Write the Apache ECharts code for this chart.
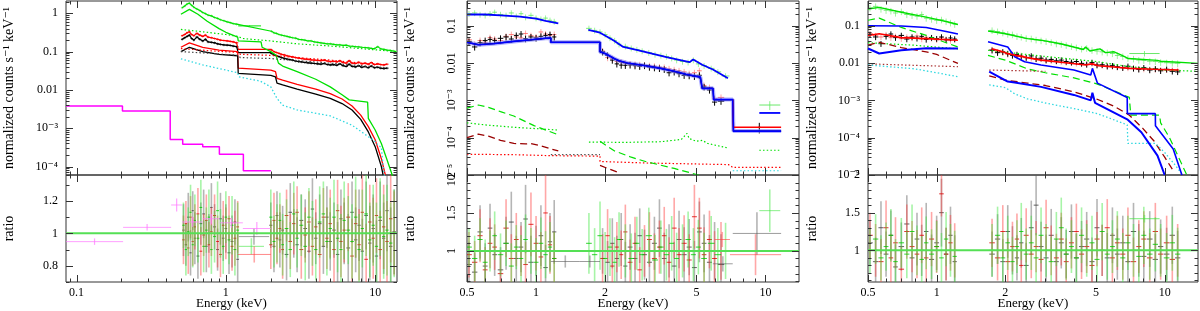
<!DOCTYPE html>
<html><head><meta charset="utf-8">
<script src="https://cdn.jsdelivr.net/npm/echarts@6/dist/echarts.min.js"></script>
<style>html,body{margin:0;padding:0;background:#fff}#c{width:1200px;height:311px}</style>
</head><body><div id="c"></div>
<script>
// ================= DATA =================
// axis ticks / labels
const P1_XTICKS = [0.1, 1, 10];
const P1_XLABELS = ['0.1', '1', '10'];
const P1_XMINOR = [0.09,0.2,0.3,0.4,0.5,0.6,0.7,0.8,0.9,2,3,4,5,6,7,8,9];
const P23_XTICKS = [0.5, 1, 2, 5, 10];
const P23_XLABELS = ['0.5', '1', '2', '5', '10'];
const P23_XMINOR = [0.6,0.7,0.8,0.9,3,4,6,7,8,9];
const P1_YTICKS = [1e-4, 1e-3, 0.01, 0.1, 1];
const P1_YLABELS = ['10⁻⁴', '10⁻³', '0.01', '0.1', '1'];
const P23_YTICKS = [1e-5, 1e-4, 1e-3, 0.01, 0.1];
const P23_YLABELS = ['10⁻⁵', '10⁻⁴', '10⁻³', '0.01', '0.1'];
const P1_RTICKS = [0.8, 1, 1.2];
const P1_RLABELS = ['0.8', '1', '1.2'];
const P1_RMINOR = [0.7, 0.9, 1.1, 1.3];
const P23_RTICKS = [1, 1.5, 2];
const P23_RLABELS = ['1', '1.5', '2'];
const P23_RMINOR = [0.6,0.7,0.8,0.9,1.1,1.2,1.3,1.4,1.6,1.7,1.8,1.9];

// ---------- Panel 1 (top) ----------
const P1_E = [0.51,0.53,0.55,0.57,0.59,0.61,0.64,0.67,0.7,0.73,0.76,0.8,0.84,0.88,0.92,0.97,1.02,1.07,1.12,1.18,
  2.02,2.1,2.18,2.27,2.36,2.46,2.57,2.68,2.8,2.93,3.07,3.22,3.38,3.55,3.73,3.92,4.12,4.33,4.55,4.78,
  5.02,5.27,5.53,5.8,6.09,6.39,6.7,7.03,7.38,7.75,8.14,8.55,8.98,9.43,9.9,10.4,10.9,11.45,12.0,12.6,13.2,13.8];
const P1_GREEN = [1.4,1.55,1.75,1.85,1.62,1.45,1.3,1.18,1.05,0.98,0.9,0.86,0.78,0.74,0.68,0.64,0.6,0.57,0.54,0.52,
  0.34,0.31,0.3,0.28,0.27,0.26,0.25,0.24,0.23,0.225,0.21,0.205,0.2,0.19,0.19,0.18,0.175,0.17,0.165,0.16,
  0.16,0.155,0.15,0.15,0.145,0.148,0.14,0.138,0.135,0.133,0.13,0.128,0.125,0.122,0.12,0.135,0.118,0.115,0.11,0.108,0.104,0.1];
const P1_RED = [0.26,0.28,0.31,0.33,0.28,0.26,0.3,0.27,0.25,0.27,0.24,0.23,0.22,0.21,0.2,0.195,0.19,0.185,0.18,0.17,
  0.11,0.1,0.095,0.09,0.085,0.082,0.078,0.075,0.073,0.07,0.068,0.066,0.064,0.063,0.061,0.06,0.059,0.058,0.06,0.057,
  0.055,0.056,0.054,0.058,0.052,0.05,0.058,0.05,0.049,0.053,0.048,0.05,0.047,0.052,0.046,0.048,0.046,0.045,0.047,null,null,null];
const P1_BLACK = [0.21,0.23,0.25,0.27,0.22,0.2,0.24,0.21,0.19,0.21,0.18,0.175,0.17,0.16,0.155,0.15,0.148,0.145,0.14,0.135,
  0.09,0.082,0.078,0.074,0.07,0.067,0.064,0.062,0.06,0.057,0.055,0.054,0.052,0.051,0.05,0.049,0.048,0.047,0.049,0.046,
  0.045,0.046,0.044,0.048,0.043,0.041,0.047,0.041,0.04,0.043,0.039,0.041,0.038,0.042,0.038,0.039,0.037,0.036,0.037,null,null,null];
// wide bins [elo, ehi, value]
const P1_WIDE_GREEN = [1.21, 1.72, 0.47];
const P1_WIDE_RED = [1.21, 2.0, 0.115];
const P1_WIDE_BLACK = [1.21, 2.0, 0.094];
const P1_GREEN_COMP = [[0.5,0.95],[0.57,1.27],[0.65,0.95],[0.75,0.62],[0.9,0.4],[1.0,0.32],[1.2,0.24],[1.21,0.19],[1.72,0.18],[1.75,0.13],[2.0,0.1],[2.17,0.08],[2.25,0.05],[2.4,0.042],[3,0.03],[4,0.019],[5,0.012],[6,0.0075],[6.7,0.0055],[6.75,0.005],[8.9,0.0048],[9.0,0.0018],[10,0.0009],[11,0.0004],[12,0.00015],[13,0.00006],[13.5,0.00004]];
const P1_RED_COMP = [[0.5,0.13],[0.57,0.17],[0.7,0.13],[0.9,0.11],[1.2,0.1],[1.21,0.037],[2.0,0.033],[2.15,0.03],[2.2,0.02],[2.4,0.018],[3,0.014],[4,0.0105],[5,0.008],[6,0.0058],[7,0.0038],[8,0.0022],[9,0.0011],[10,0.0005],[11,0.00016],[11.7,0.00006]];
const P1_BLACK_COMP = [[0.5,0.1],[0.57,0.13],[0.7,0.1],[0.9,0.085],[1.2,0.078],[1.21,0.027],[2.0,0.024],[2.15,0.022],[2.2,0.015],[2.4,0.0135],[3,0.0105],[4,0.0078],[5,0.006],[6,0.0044],[7,0.003],[8,0.0017],[9,0.0008],[10,0.00033],[11,0.0001],[11.3,0.00006]];
const P1_GREEN_DOT = [[0.5,0.38],[0.7,0.33],[1.0,0.28],[1.2,0.25],[1.3,0.22],[2,0.19],[3,0.16],[5,0.14],[8,0.12],[14,0.1]];
const P1_RED_DOT = [[0.5,0.12],[0.8,0.105],[1.2,0.095],[1.25,0.085],[2,0.08],[3,0.07],[5,0.06],[8,0.05],[12,0.045]];
const P1_BLACK_DOT = [[0.5,0.1],[0.8,0.09],[1.2,0.08],[1.25,0.07],[2,0.066],[3,0.058],[5,0.05],[8,0.043],[12,0.038]];
const P1_CYAN_DOT = [[0.5,0.065],[0.7,0.045],[1,0.033],[1.2,0.028],[1.22,0.022],[1.7,0.017],[2.0,0.012],[2.2,0.006],[2.4,0.004],[3,0.003],[5,0.0021],[7,0.0012],[9,0.0006],[10,0.00045],[10.5,0.00035],[11,0.00032],[11.3,0.0001],[11.6,0.00005]];
const P1_MAG_EDGES = [0.085, 0.203, 0.424, 0.514, 0.70, 0.905, 1.31, 2.0];
const P1_MAG_VALS = [0.0038, 0.0028, 5.1e-4, 3.8e-4, 3.3e-4, 2.1e-4, 7.7e-5];

// ---------- Panel 1 (ratio) ----------
const P1R_E = [0.52,0.54,0.56,0.58,0.6,0.62,0.65,0.68,0.71,0.74,0.77,0.8,0.84,0.88,0.92,0.96,1.0,1.05,1.1,1.15,1.2,
  2.0,2.1,2.2,2.3,2.4,2.55,2.7,2.85,3.0,3.2,3.4,3.6,3.8,4.0,4.25,4.5,4.75,5.0,5.3,5.6,5.9,6.2,6.6,7.0,7.4,7.8,8.2,8.7,9.2,9.7,10.2,10.8,11.4,12.0,12.7,13.4];
const P1R_BLACK = [1.02,0.93,1.1,0.88,1.14,0.97,0.86,1.06,1.12,0.92,1.0,1.16,1.04,0.9,1.09,0.97,1.03,0.88,0.95,1.07,0.84,
  1.05,0.92,1.11,0.96,1.02,0.87,1.13,1.0,0.93,1.08,1.03,0.89,1.15,0.97,1.06,0.92,1.1,0.95,1.02,0.87,1.09,1.0,0.91,1.13,0.96,1.05,0.89,1.11,0.94,1.03,0.86,1.08,0.97,1.14,0.92,1.01];
const P1R_BLACK_ERR = [0.16,0.13,0.15,0.14,0.12,0.16,0.14,0.13,0.15,0.16,0.12,0.15,0.14,0.13,0.16,0.14,0.15,0.13,0.16,0.14,0.17,
  0.14,0.16,0.15,0.17,0.15,0.16,0.18,0.15,0.17,0.16,0.18,0.17,0.19,0.16,0.18,0.17,0.19,0.18,0.17,0.2,0.18,0.19,0.21,0.19,0.2,0.22,0.2,0.21,0.23,0.21,0.22,0.24,0.22,0.25,0.24,0.26];
const P1R_RED = [0.96,1.06,0.91,1.1,0.95,1.04,1.12,0.89,0.99,1.08,0.93,1.01,1.11,0.95,0.87,1.05,1.0,1.09,0.92,0.97,1.04,
  0.93,1.08,0.97,1.03,0.9,1.11,0.95,1.06,1.13,0.9,0.99,1.07,0.92,1.04,0.87,1.1,0.97,1.06,0.9,1.14,0.95,1.02,1.1,0.86,1.06,0.93,1.13,0.84,1.07,0.97,1.11,0.9,1.04,0.95,1.09,1.0];
const P1R_RED_ERR = [0.15,0.14,0.16,0.13,0.15,0.14,0.16,0.15,0.13,0.16,0.14,0.15,0.13,0.16,0.14,0.15,0.16,0.14,0.15,0.17,0.16,
  0.15,0.17,0.16,0.15,0.18,0.16,0.17,0.19,0.16,0.18,0.17,0.19,0.18,0.17,0.2,0.18,0.19,0.21,0.2,0.19,0.22,0.2,0.21,0.23,0.21,0.22,0.24,0.22,0.23,0.25,0.23,0.24,0.26,0.25,0.27,0.26];
const P1R_GREEN = [1.05,0.9,1.01,1.13,0.93,1.08,0.97,1.16,0.92,1.02,1.1,0.9,0.98,1.14,1.0,0.92,1.1,0.96,1.05,0.9,1.02,
  1.1,0.95,1.0,1.08,0.93,1.03,0.9,1.12,0.97,1.05,0.92,1.1,1.0,0.9,1.07,1.12,0.95,1.03,1.1,0.97,0.9,1.08,1.02,0.95,1.1,0.9,1.03,1.12,0.96,1.05,0.92,1.1,0.98,1.02,0.94,1.0];
const P1R_GREEN_ERR = [0.14,0.16,0.15,0.17,0.14,0.16,0.15,0.17,0.16,0.14,0.17,0.15,0.16,0.18,0.15,0.17,0.16,0.15,0.18,0.16,0.17,
  0.17,0.16,0.18,0.17,0.19,0.18,0.17,0.2,0.18,0.19,0.21,0.18,0.2,0.19,0.22,0.2,0.21,0.19,0.23,0.21,0.22,0.24,0.21,0.23,0.25,0.22,0.24,0.26,0.23,0.25,0.27,0.24,0.26,0.28,0.25,0.27];
// [elo, ehi, ratio, err]
const P1R_WIDE_BLACK = [1.22, 1.95, 0.98, 0.05];
const P1R_WIDE_GREEN = [1.22, 1.8, 0.92, 0.05];
const P1R_WIDE_RED = [1.2, 2.0, 0.87, 0.05];
const P1R_MAG = [[0.085,0.205,0.949,0.02],[0.205,0.43,1.037,0.02],[0.43,0.51,1.175,0.04],[0.51,0.7,1.07,0.03],[0.7,0.91,1.09,0.03],[0.91,1.3,1.065,0.03],[1.3,2.0,1.03,0.04]];

// ---------- Panel 2 (top) ----------
const P2_EA = [0.51,0.54,0.57,0.6,0.63,0.66,0.7,0.74,0.78,0.82,0.86,0.9,0.95,1.0,1.05,1.1,1.15,1.2];
const P2_EB = [1.95,2.05,2.15,2.25,2.35,2.45,2.57,2.7,2.83,2.97,3.12,3.28,3.45,3.62,3.8,4.0,4.2,4.42,4.65,4.9,5.15,5.4,5.7,6.0,6.4];
const P2_EGB = [1.7,1.8,1.9,2.0,2.1,2.2,2.3,2.45,2.6,2.75,2.9,3.1,3.3,3.5,3.7,3.9,4.1,4.35,4.6,4.85,5.1,5.4,5.8,6.2,6.7];
const P2_BLACK_A = [0.038,0.027,0.035,0.04,0.043,0.04,0.046,0.05,0.044,0.055,0.06,0.045,0.05,0.047,0.052,0.055,0.058,0.05];
const P2_BLACK_B = [0.02,0.016,0.012,0.0095,0.0088,0.0087,0.0089,0.0085,0.0082,0.0086,0.0078,0.0075,0.0072,0.0068,0.0055,0.0058,0.0052,0.0047,0.0046,0.0044,0.0047,0.0023,0.0019,0.0009,0.00095];
const P2_RED_A = [0.042,0.032,0.04,0.036,0.048,0.044,0.04,0.052,0.058,0.05,0.047,0.062,0.054,0.05,0.068,0.06,0.055,0.058];
const P2_RED_B = [0.021,0.014,0.013,0.011,0.0105,0.0098,0.0095,0.0092,0.009,0.0088,0.0085,0.0082,0.0078,0.0076,0.007,0.0066,0.0062,0.0058,0.0052,0.0055,0.0062,0.0025,0.0022,0.0011,0.0012];
const P2_GREEN_A = [0.21,0.22,0.2,0.19,0.21,0.23,0.2,0.19,0.22,0.18,0.21,0.17,0.19,0.16,0.15,0.16,0.14,0.13];
const P2_GREEN_B = [0.085,0.075,0.068,0.058,0.047,0.04,0.032,0.028,0.025,0.023,0.021,0.019,0.017,0.016,0.015,0.0135,0.012,0.011,0.0105,0.012,0.0095,0.0085,0.0072,0.0058,0.0045];
const P2_BLUE_UPA = [[0.5,0.2],[0.6,0.2],[0.7,0.19],[0.85,0.175],[1.0,0.155],[1.1,0.135],[1.25,0.115]];
const P2_BLUE_UPB = [[1.69,0.077],[1.9,0.065],[2.05,0.05],[2.18,0.04],[2.4,0.027],[2.8,0.022],[3.7,0.0144],[4.67,0.0106],[4.84,0.0125],[5.3,0.009],[5.9,0.0067],[6.86,0.0039]];
const P2_STEP = [[0.5,0.036],[0.56,0.031],[0.65,0.033],[0.8,0.038],[0.95,0.042],[1.1,0.046],[1.16,0.047],[1.16,0.036],[1.9,0.036],[1.9,0.02],[2.0,0.018],[2.2,0.013],[2.3,0.0115],[2.5,0.01],[3,0.0085],[3.5,0.0072],[4,0.006],[4.5,0.005],[5.2,0.0042],[5.3,0.0021],[5.9,0.0021],[5.95,0.00105],[7.2,0.00105],[7.25,0.00015],[11.7,0.00015]];
const P2_STEP_RED = [[7.2,0.00105],[7.25,0.00019],[11.7,0.00019]];
const P2_GREEN_DASH_A = [[0.5,6.2e-4],[0.56,7.5e-4],[0.62,6.5e-4],[0.7,5e-4],[0.8,3.8e-4],[0.98,2.1e-4],[1.25,1.2e-4]];
const P2_GREEN_DOT_A = [[0.5,2.5e-4],[0.6,2.2e-4],[0.8,1.9e-4],[1.0,1.75e-4],[1.25,1.6e-4]];
const P2_RED_DASH_A = [[0.5,1e-4],[0.56,1.25e-4],[0.62,1.1e-4],[0.7,8.5e-5],[0.8,7e-5],[0.9,6.8e-5],[0.95,7e-5],[1.05,6e-5],[1.25,4.4e-5]];
const P2_RED_DOT = [[0.5,3.6e-5],[0.8,3.5e-5],[1.16,3.3e-5],[1.9,3.2e-5],[1.9,2.3e-5],[3,2.1e-5],[6.9,1.9e-5],[7.2,1.6e-5],[11.7,1.6e-5]];
const P2_GRAY_DOT = [[1.16,3.5e-5],[1.9,3.5e-5]];
const P2_RED_DASH_B = [[1.9,1.8e-5],[2.05,1.5e-5],[2.3,1.15e-5]];
const P2_GREEN_DASH_B = [[1.9,8e-5],[2.2,4.4e-5],[2.6,3e-5],[3,2.3e-5],[4,1.5e-5],[5.1,1e-5]];
const P2_GREEN_DOT_B = [[1.7,7.6e-5],[2.5,7.5e-5],[3.5,7.8e-5],[4.3,9e-5],[4.55,1.3e-4],[4.65,9.5e-5],[5,8e-5],[5.3,8.5e-5],[5.6,7e-5],[6.86,5.3e-5]];
const P2_GREEN_DOT_C = [[9.4,4.6e-5],[11.6,4.6e-5]];
const P2_CYAN_DOT = [[7.2,1.3e-5],[11.7,1.3e-5]];
const P2_BLUE_HI = [[9.4,4.6e-4],[11.6,4.6e-4]];
const P2_GREEN_HI = [9.4, 11.6, 7.5e-4, 2e-4];   // [elo, ehi, value, err]
const P2_BLACK_HI = [9.3, 9.5, 1.9e-4, 6e-5];

// ---------- Panel 2 (ratio) ----------
const P2R_BLACK = [0.82,0.72,1.25,0.8,1.3,0.95,0.75,1.1,1.38,0.9,1.05,1.42,0.85,1.0,1.2,0.78,1.12,1.25,
  1.0,0.85,1.1,0.9,1.15,0.8,1.05,0.9,1.2,0.95,0.85,1.1,1.3,0.9,1.0,0.8,1.15,0.95,1.05,0.78,1.25,1.1,0.85,1.0,0.82];
const P2R_BLACK_ERR = [0.3,0.25,0.35,0.3,0.32,0.28,0.3,0.35,0.4,0.3,0.33,0.45,0.35,0.33,0.4,0.3,0.38,0.42,
  0.3,0.28,0.33,0.3,0.35,0.32,0.3,0.34,0.36,0.33,0.3,0.35,0.38,0.34,0.35,0.32,0.38,0.36,0.37,0.35,0.4,0.38,0.36,0.38,0.4];
const P2R_RED = [0.95,0.85,1.2,0.75,1.1,1.05,0.7,1.3,0.9,1.15,1.0,0.82,1.35,1.1,0.92,1.5,1.08,0.9,
  0.9,1.2,0.8,1.05,0.95,1.25,0.85,1.1,0.75,1.0,1.15,0.9,1.05,1.2,0.85,1.3,0.95,1.1,0.88,1.45,1.3,0.95,1.15,0.9,1.0];
const P2R_RED_ERR = [0.3,0.28,0.35,0.3,0.33,0.3,0.28,0.38,0.32,0.35,0.33,0.3,0.42,0.36,0.33,0.5,0.38,0.35,
  0.32,0.35,0.3,0.33,0.32,0.36,0.3,0.35,0.3,0.34,0.36,0.33,0.35,0.38,0.33,0.4,0.35,0.37,0.34,0.42,0.4,0.36,0.38,0.36,0.38];
const P2R_GREEN = [1.05,0.9,1.15,0.85,1.0,1.2,0.95,1.1,0.8,1.05,0.9,1.15,1.0,0.85,1.1,0.95,1.05,0.9,
  1.1,0.95,1.2,0.9,1.05,0.85,1.15,1.0,0.9,1.1,0.95,1.2,0.88,1.05,0.95,1.1,0.9,1.0,1.15,0.95,1.05,0.9,1.1,0.95,1.0];
const P2R_GREEN_ERR = [0.25,0.3,0.28,0.3,0.27,0.32,0.28,0.3,0.3,0.29,0.31,0.33,0.3,0.32,0.34,0.31,0.33,0.35,
  0.4,0.35,0.45,0.35,0.38,0.33,0.36,0.35,0.33,0.35,0.34,0.37,0.33,0.35,0.34,0.36,0.34,0.35,0.37,0.35,0.36,0.34,0.36,0.35,0.37];
// wide bins [elo, ehi, ratio, err]
const P2R_WIDE_BLACK = [[1.16,1.55,0.86,0.08],[1.55,1.9,0.86,0.08],[5.9,7.2,0.83,0.1],[7.2,11.7,1.23,0.28]];
const P2R_WIDE_RED = [[6.0,7.0,1.15,0.1],[7.0,11.7,0.95,0.27]];
const P2R_WIDE_GREEN = [[9.4,11.6,1.53,0.28]];

// ---------- Panel 3 (top) ----------
const P3_EA = [0.51,0.54,0.57,0.6,0.63,0.66,0.7,0.74,0.78,0.82,0.86,0.9,0.95,1.0,1.05,1.1,1.15,1.2];
const P3_EB = [1.75,1.85,1.95,2.05,2.15,2.25,2.35,2.47,2.6,2.73,2.87,3.02,3.18,3.35,3.52,3.7,3.9,4.1,4.32,4.55,4.8,5.05,5.32,5.6,5.9,6.2,6.55,6.9,7.3,7.7,8.1,8.6,9.1,9.6,10.2,10.8,11.4];
const P3_BLACK_A = [0.058,0.05,0.033,0.052,0.06,0.048,0.055,0.044,0.05,0.046,0.052,0.043,0.048,0.045,0.05,0.042,0.047,0.044];
const P3_BLACK_B = [0.022,0.019,0.02,0.018,0.016,0.017,0.015,0.014,0.0155,0.013,0.0135,0.012,0.0125,0.0115,0.012,0.011,0.0105,0.011,0.0098,0.0092,0.0104,0.0088,0.009,0.0082,0.0085,0.0079,0.0075,0.0082,0.0072,0.0068,0.0075,0.0065,0.007,0.0062,0.0068,0.006,0.0058];
const P3_RED_A = [0.062,0.055,0.05,0.058,0.048,0.052,0.045,0.05,0.047,0.053,0.044,0.049,0.046,0.042,0.048,0.044,0.04,0.043];
const P3_RED_B = [0.023,0.02,0.019,0.017,0.017,0.015,0.016,0.014,0.0135,0.0128,0.013,0.0118,0.0115,0.011,0.0108,0.0104,0.0102,0.0098,0.0095,0.0092,0.0098,0.009,0.0086,0.0084,0.008,0.0078,0.0076,0.0074,0.0073,0.007,0.0069,0.0068,0.0067,0.0066,0.0066,0.0065,0.0064];
const P3_GREEN_A = [0.3,0.33,0.28,0.26,0.25,0.22,0.24,0.2,0.19,0.18,0.2,0.16,0.15,0.14,0.145,0.13,0.12,0.11];
const P3_GREEN_B = [0.075,0.07,0.065,0.06,0.058,0.052,0.05,0.046,0.045,0.042,0.04,0.038,0.036,0.033,0.032,0.03,0.028,0.026,0.024,0.025,0.022,0.021,0.02,0.019,0.018,0.016,0.015,0.0135,0.013,0.012,0.0118,0.0112,0.011,0.0105,0.0102,0.01,0.0098];
const P3_GREEN_WIDE = [7.0, 9.5, 0.018, 0.003];
const P3_GREEN_MODEL_A = [[0.5,0.28],[0.56,0.31],[0.7,0.23],[0.9,0.17],[1.1,0.13],[1.24,0.108]];
const P3_GREEN_MODEL_B = [[1.68,0.072],[2.0,0.061],[2.5,0.045],[2.87,0.041],[3.5,0.033],[4.4,0.023],[4.5,0.027],[4.7,0.021],[5.2,0.024],[5.5,0.019],[6.0,0.02],[6.5,0.016],[6.9,0.0133],[9.3,0.0118],[9.4,0.013],[9.6,0.0112],[14,0.0098]];
const P3_GREEN_DASH_A = [[0.5,0.14],[0.56,0.16],[0.7,0.09],[0.9,0.055],[1.1,0.035],[1.24,0.027]];
const P3_GREEN_DASH_B = [[1.68,0.016],[2,0.012],[2.5,0.007],[3,0.0055],[4,0.004],[5,0.0028],[6,0.0018],[7,0.0012],[7.1,0.0004],[9.5,0.0004],[9.6,0.00025],[10.5,0.0001],[11.5,0.00003],[12.5,0.00001]];
const P3_GREEN_DOT_A = [[0.5,0.035],[0.8,0.03],[1.24,0.024]];
const P3_GREEN_DOT_B = [[1.68,0.022],[3,0.015],[5,0.011],[7,0.008],[10,0.0065],[14,0.006]];
const P3_BLUE_UP_A = [[0.5,0.1],[0.7,0.098],[0.9,0.09],[1.1,0.07],[1.24,0.06]];
const P3_BLUE_UP_B = [[1.68,0.037],[2.05,0.027],[2.2,0.0147],[2.43,0.0108],[2.87,0.0089],[4.0,0.0065],[4.74,0.0048],[4.82,0.0072],[5.07,0.0029],[6.85,0.0012],[6.86,0.00044],[9.1,0.00044],[9.11,0.00021],[10.9,0.00005],[11.9,0.00001]];
const P3_BLUE_LOW_A = [[0.5,0.0245],[0.56,0.018],[0.7,0.022],[0.9,0.025],[1.24,0.0245]];
const P3_BLUE_LOW_B = [[1.7,0.0059],[2.05,0.0032],[2.2,0.003],[2.87,0.0023],[4.0,0.0014],[4.74,0.001],[4.82,0.0016],[4.95,0.00086],[6.85,0.00031],[7.9,0.00014],[9.3,0.000033],[10,0.00001]];
const P3_RED_MODEL_A = [[0.5,0.055],[0.56,0.061],[0.7,0.048],[0.9,0.045],[1.24,0.041]];
const P3_RED_MODEL_B = [[1.75,0.024],[1.9,0.021],[2.05,0.018],[2.2,0.0163],[2.5,0.014],[2.87,0.012],[3.5,0.0105],[4.5,0.0089],[4.8,0.0095],[5.1,0.0085],[6,0.0078],[7,0.0072],[9,0.0068],[11.5,0.0065]];
const P3_RED_DASH_A = [[0.5,0.03],[0.56,0.036],[0.7,0.026],[0.9,0.02],[1.0,0.017],[1.24,0.0098]];
const P3_RED_DASH_B = [[1.7,0.0045],[2.0,0.0035],[2.5,0.0029],[3,0.0025],[4,0.0017],[5,0.0011],[6,0.0007],[7,0.0004],[8,0.00018],[9,0.00008],[10,0.00003],[11,0.000012]];
const P3_RED_DOT_A = [[0.5,0.0095],[1.24,0.008]];
const P3_RED_DOT_B = [[1.7,0.0065],[3,0.006]];
const P3_CYAN_A = [[0.5,0.0089],[0.8,0.007],[1.0,0.0055],[1.24,0.0043]];
const P3_CYAN_B = [[1.7,0.0026],[2.0,0.0022],[2.2,0.0015],[2.5,0.0011],[3,0.00085],[4,0.0006],[5,0.00045],[6,0.0003],[6.85,0.00022],[6.9,0.00007],[9.1,0.00007],[10,0.00004],[11,0.00002],[12,0.00001]];

// ---------- Panel 3 (ratio) ----------
const P3R_BLACK = [1.1,0.85,1.3,0.95,1.2,0.78,1.05,1.35,0.9,1.15,1.0,1.25,0.88,1.1,1.5,0.95,1.2,0.85,
  0.95,1.15,0.85,1.25,1.0,0.9,1.1,0.8,1.3,1.6,1.05,0.9,1.2,0.85,1.1,0.95,1.25,0.9,1.05,1.15,0.85,1.3,1.0,0.9,1.2,0.95,1.1,0.85,1.25,1.0,0.92,1.15,0.88,1.05,0.95,1.2,0.9];
const P3R_BLACK_ERR = [0.3,0.32,0.35,0.3,0.33,0.3,0.32,0.38,0.33,0.35,0.34,0.38,0.33,0.36,0.45,0.35,0.38,0.35,
  0.3,0.33,0.3,0.35,0.32,0.3,0.33,0.3,0.36,0.4,0.33,0.31,0.35,0.3,0.34,0.32,0.36,0.32,0.34,0.36,0.32,0.38,0.34,0.33,0.37,0.34,0.36,0.33,0.38,0.35,0.34,0.37,0.34,0.36,0.35,0.38,0.36];
const P3R_RED = [1.2,1.0,0.85,1.3,0.9,1.1,0.75,1.25,1.05,0.95,1.2,0.9,1.15,1.05,1.75,0.95,1.1,1.0,
  1.1,0.9,1.25,0.85,1.05,1.15,0.8,1.2,0.95,1.05,0.88,1.3,1.0,0.9,1.15,0.85,1.1,1.25,0.95,1.05,0.8,1.15,1.0,1.3,0.9,1.1,0.95,1.2,0.85,1.05,1.15,0.9,1.25,0.95,1.1,0.88,1.0];
const P3R_RED_ERR = [0.3,0.35,0.3,0.36,0.32,0.34,0.3,0.36,0.34,0.32,0.37,0.33,0.36,0.35,0.3,0.35,0.37,0.36,
  0.32,0.3,0.35,0.31,0.33,0.34,0.3,0.36,0.32,0.34,0.31,0.37,0.33,0.32,0.35,0.31,0.34,0.37,0.33,0.35,0.3,0.36,0.34,0.38,0.33,0.36,0.34,0.37,0.32,0.35,0.37,0.33,0.38,0.34,0.36,0.33,0.35];
const P3R_GREEN = [1.0,1.15,0.9,1.05,1.2,0.85,1.1,0.95,1.25,1.0,0.88,1.1,0.95,1.05,0.9,1.15,1.0,0.92,
  1.0,1.2,0.9,1.1,0.85,1.05,1.25,0.95,1.1,0.9,1.2,1.0,0.85,1.15,1.3,0.95,1.05,0.9,1.2,1.0,1.1,0.88,1.25,0.95,1.05,1.15,0.9,1.1,1.0,0.92,1.2,0.95,1.08,1.0,0.9,1.1,0.95];
const P3R_GREEN_ERR = [0.3,0.33,0.3,0.32,0.35,0.3,0.33,0.32,0.36,0.33,0.31,0.35,0.33,0.34,0.33,0.36,0.35,0.34,
  0.35,0.38,0.34,0.36,0.33,0.35,0.38,0.34,0.36,0.33,0.37,0.35,0.33,0.36,0.4,0.34,0.35,0.33,0.37,0.35,0.36,0.33,0.38,0.34,0.35,0.37,0.33,0.36,0.35,0.34,0.38,0.34,0.36,0.35,0.33,0.37,0.35];
const P3R_WIDE_GREEN = [[7.0,9.5,1.42,0.05]];

// ================= RENDERING =================
const FONT = '"Liberation Serif","DejaVu Serif",serif';
const GEOM = [
  {left:66, width:331, x:[0.085,14], yTop:[6e-5,2.1], yBot:[0.7,1.36], rot:false, titleX:9},
  {left:467, width:332, x:[0.5,14], yTop:[1e-5,0.46], yBot:[0.59,2.0], rot:true, titleX:410},
  {left:868, width:330, x:[0.5,14], yTop:[1e-5,0.46], yBot:[0.58,2.0], rot:false, titleX:812}
];
const TOP_Y = 1, TOP_H = 174, BOT_Y = 175, BOT_H = 107;

function logMinor(lo, hi) {
  const out = [];
  for (let d = Math.floor(Math.log10(lo)); d <= Math.ceil(Math.log10(hi)); d++) {
    for (let k = 2; k <= 9; k++) { const v = k * Math.pow(10, d); if (v > lo && v < hi) out.push(v); }
  }
  return out;
}
const pair = (E, V) => E.map((e, i) => [e, V[i]]).filter(p => p[1] != null);
const cat = (a, b) => a.concat(b);

// error bar items: [x, y, ylo, yhi, xlo, xhi]
function ebItems(E, V, ERR, rel) {
  const out = [];
  for (let i = 0; i < E.length; i++) {
    if (V[i] == null) continue;
    const le = Math.log10(E[i]);
    const gp = i > 0 ? le - Math.log10(E[i - 1]) : Infinity;
    const gn = i < E.length - 1 ? Math.log10(E[i + 1]) - le : Infinity;
    let hw = Math.min(gp, gn) / 2; if (!isFinite(hw)) hw = 0.01;
    const err = ERR ? ERR[i] : V[i] * rel;
    out.push([E[i], V[i], Math.max(V[i] - err, V[i] * 0.2), V[i] + err, E[i] / Math.pow(10, hw), E[i] * Math.pow(10, hw)]);
  }
  return out;
}
function wideItems(list) { // [elo, ehi, v, err]
  return list.map(w => [Math.sqrt(w[0] * w[1]), w[2], w[2] - w[3], w[2] + w[3], w[0], w[1]]);
}
function ebSeries(gi, data, col, errCol, lw, z) {
  return {
    type: 'custom', xAxisIndex: gi, yAxisIndex: gi, clip: true, silent: true, z: z || 2, animation: false,
    dimensions: ['x', 'y', 'lo', 'hi', 'xl', 'xh'], encode: {x: 0, y: 1}, data,
    renderItem(p, api) {
      const x = api.value(0), y = api.value(1);
      const c = api.coord([x, y]), a = api.coord([api.value(4), y]), b = api.coord([api.value(5), y]);
      const t = api.coord([x, api.value(3)]), u = api.coord([x, api.value(2)]);
      return {type: 'group', children: [
        {type: 'line', shape: {x1: c[0], y1: t[1], x2: c[0], y2: u[1]}, style: {stroke: errCol, lineWidth: lw}},
        {type: 'line', shape: {x1: a[0], y1: c[1], x2: b[0], y2: c[1]}, style: {stroke: col, lineWidth: 1}}
      ]};
    }
  };
}
function lineS(gi, data, color, width, type, z) {
  return {type: 'line', xAxisIndex: gi, yAxisIndex: gi, data, symbol: 'none', showSymbol: false, silent: true,
    animation: false, z: z || 3, lineStyle: {color, width: width || 1.3, type: type || 'solid'}};
}
const DASH = [7, 4], DOT = [1.5, 2.2];

function frameSeries(gi, g, isTop, yMaj, yLab, yMin, xMaj, xLab, xMin) {
  const xr = g.x, yr = isTop ? g.yTop : g.yBot;
  return {
    type: 'custom', xAxisIndex: gi, yAxisIndex: gi, clip: false, silent: true, z: 20, animation: false,
    data: [[xr[0], yr[0]]],
    renderItem(p, api) {
      const ch = [];
      const bl = api.coord([xr[0], yr[0]]), tr = api.coord([xr[1], yr[1]]);
      const X0 = bl[0], Y0 = bl[1], X1 = tr[0], Y1 = tr[1];
      const ln = (x1, y1, x2, y2) => ch.push({type: 'line', shape: {x1, y1, x2, y2}, style: {stroke: '#333', lineWidth: 1}});
      const xt = (v, len) => { const px = Math.round(api.coord([v, yr[0]])[0]) + 0.5; ln(px, Y0, px, Y0 - len); ln(px, Y1, px, Y1 + len); };
      const yt = (v, len) => { const py = Math.round(api.coord([xr[0], v])[1]) + 0.5; ln(X0, py, X0 + len, py); ln(X1, py, X1 - len, py); };
      xMaj.forEach(v => xt(v, 7)); xMin.forEach(v => xt(v, 3.5));
      yMaj.forEach(v => yt(v, 7)); yMin.forEach(v => yt(v, 3.5));
      yMaj.forEach((v, i) => {
        const py = api.coord([xr[0], v])[1];
        if (g.rot) {
          ch.push({type: 'text', x: X0 - 15, y: py, rotation: Math.PI / 2,
            style: {text: yLab[i], fill: '#000', font: '12px ' + FONT, align: 'center', verticalAlign: 'middle'}});
        } else {
          ch.push({type: 'text', x: X0 - 8, y: py,
            style: {text: yLab[i], fill: '#000', font: '12px ' + FONT, align: 'right', verticalAlign: 'middle'}});
        }
      });
      if (!isTop) {
        xMaj.forEach((v, i) => {
          const px = api.coord([v, yr[0]])[0];
          ch.push({type: 'text', x: px, y: Y0 + 11,
            style: {text: xLab[i], fill: '#000', font: '12px ' + FONT, align: 'center', verticalAlign: 'middle'}});
        });
      }
      return {type: 'group', children: ch};
    }
  };
}

const grids = [], xAxes = [], yAxes = [], series = [], graphics = [];
GEOM.forEach((g, i) => {
  grids.push({left: g.left, top: TOP_Y, width: g.width, height: TOP_H, show: true, borderColor: '#333', borderWidth: 1});
  grids.push({left: g.left, top: BOT_Y, width: g.width, height: BOT_H, show: true, borderColor: '#333', borderWidth: 1});
  for (let k = 0; k < 2; k++) {
    xAxes.push({type: 'log', logBase: 10, gridIndex: 2 * i + k, min: g.x[0], max: g.x[1], show: false});
  }
  yAxes.push({type: 'log', logBase: 10, gridIndex: 2 * i, min: g.yTop[0], max: g.yTop[1], show: false});
  yAxes.push({type: 'value', gridIndex: 2 * i + 1, min: g.yBot[0], max: g.yBot[1], show: false});
  const xMaj = i === 0 ? P1_XTICKS : P23_XTICKS, xLab = i === 0 ? P1_XLABELS : P23_XLABELS, xMin = i === 0 ? P1_XMINOR : P23_XMINOR;
  series.push(frameSeries(2 * i, g, true, i === 0 ? P1_YTICKS : P23_YTICKS, i === 0 ? P1_YLABELS : P23_YLABELS,
    logMinor(g.yTop[0], g.yTop[1]), xMaj, xLab, xMin));
  series.push(frameSeries(2 * i + 1, g, false, i === 0 ? P1_RTICKS : P23_RTICKS, i === 0 ? P1_RLABELS : P23_RLABELS,
    i === 0 ? P1_RMINOR : P23_RMINOR, xMaj, xLab, xMin));
  series.push(lineS(2 * i + 1, [[g.x[0], 1], [g.x[1], 1]], '#55e055', 2, 'solid', 4));
  const ts = {fill: '#000', font: '14px ' + FONT, align: 'center', verticalAlign: 'middle'};
  graphics.push({type: 'text', x: g.titleX, y: TOP_Y + TOP_H / 2, rotation: Math.PI / 2, style: Object.assign({text: 'normalized counts s⁻¹ keV⁻¹'}, ts)});
  graphics.push({type: 'text', x: g.titleX, y: BOT_Y + BOT_H / 2, rotation: Math.PI / 2, style: Object.assign({text: 'ratio'}, ts)});
  graphics.push({type: 'text', x: g.left + g.width / 2, y: 304, style: Object.assign({text: 'Energy (keV)'}, ts, {font: '13px ' + FONT})});
});

const C = {green: '#00e000', lgreen: 'rgba(60,230,60,0.45)', red: '#ff0000', lred: 'rgba(255,60,60,0.45)',
  black: '#000', gray: 'rgba(90,90,90,0.45)', blue: '#0000ff', cyan: '#30d8e0', mag: '#ff00ff', dred: '#990000'};

// ---- Panel 1 top (grid 0)
const magStep = [];
P1_MAG_VALS.forEach((v, i) => { magStep.push([P1_MAG_EDGES[i], v]); magStep.push([P1_MAG_EDGES[i + 1], v]); });
series.push(lineS(0, magStep, C.mag, 1.5));
series.push(ebSeries(0, ebItems(P1_E, P1_GREEN, null, 0.08), 'rgba(80,230,80,0.8)', 'rgba(120,240,120,0.7)', 1));
series.push(ebSeries(0, wideItems([[P1_WIDE_GREEN[0], P1_WIDE_GREEN[1], P1_WIDE_GREEN[2], 0.01]]), C.green, C.green, 1));
series.push(lineS(0, pair(P1_E, P1_GREEN), C.green, 1.2));
series.push(ebSeries(0, ebItems(P1_E, P1_RED, null, 0.08), C.red, 'rgba(255,120,120,0.8)', 1));
series.push(ebSeries(0, ebItems(P1_E, P1_BLACK, null, 0.08), C.black, 'rgba(100,100,100,0.8)', 1));
series.push(lineS(0, cat(pair(P1_E.slice(0, 20), P1_RED.slice(0, 20)), [[P1_WIDE_RED[0], P1_WIDE_RED[2]], [P1_WIDE_RED[1], P1_WIDE_RED[2]]]).concat(pair(P1_E.slice(20), P1_RED.slice(20))), C.red, 1.2));
series.push(lineS(0, cat(pair(P1_E.slice(0, 20), P1_BLACK.slice(0, 20)), [[P1_WIDE_BLACK[0], P1_WIDE_BLACK[2]], [P1_WIDE_BLACK[1], P1_WIDE_BLACK[2]]]).concat(pair(P1_E.slice(20), P1_BLACK.slice(20))), C.black, 1.2));
series.push(lineS(0, P1_GREEN_COMP, C.green, 1.3));
series.push(lineS(0, P1_RED_COMP, C.red, 1.3));
series.push(lineS(0, P1_BLACK_COMP, C.black, 1.3));
series.push(lineS(0, P1_GREEN_DOT, C.green, 1.2, DOT));
series.push(lineS(0, P1_RED_DOT, C.red, 1.2, DOT));
series.push(lineS(0, P1_BLACK_DOT, '#444', 1.2, DOT));
series.push(lineS(0, P1_CYAN_DOT, C.cyan, 1.3, DOT));

// ---- Panel 1 ratio (grid 1)
series.push(ebSeries(1, ebItems(P1R_E, P1R_BLACK, P1R_BLACK_ERR), 'rgba(60,60,60,0.8)', C.gray, 1.6));
series.push(ebSeries(1, ebItems(P1R_E, P1R_RED, P1R_RED_ERR), 'rgba(220,0,0,0.8)', C.lred, 1.6));
series.push(ebSeries(1, ebItems(P1R_E, P1R_GREEN, P1R_GREEN_ERR), 'rgba(0,200,0,0.8)', C.lgreen, 1.6));
series.push(ebSeries(1, wideItems([P1R_WIDE_BLACK]), 'rgba(90,90,90,0.6)', C.gray, 1.6));
series.push(ebSeries(1, wideItems([P1R_WIDE_GREEN]), 'rgba(60,230,60,0.6)', C.lgreen, 1.6));
series.push(ebSeries(1, wideItems([P1R_WIDE_RED]), 'rgba(255,60,60,0.6)', C.lred, 1.6));
series.push(ebSeries(1, wideItems(P1R_MAG), 'rgba(255,120,255,0.7)', 'rgba(255,120,255,0.7)', 1.2));

// ---- Panel 2 top (grid 2)
series.push(ebSeries(2, cat(ebItems(P2_EA, P2_GREEN_A, null, 0.18), ebItems(P2_EGB, P2_GREEN_B, null, 0.18)), 'rgba(90,230,90,0.8)', 'rgba(120,240,120,0.7)', 1));
series.push(ebSeries(2, wideItems([P2_GREEN_HI]), 'rgba(90,230,90,0.9)', 'rgba(120,240,120,0.9)', 1));
series.push(ebSeries(2, cat(ebItems(P2_EA, P2_RED_A, null, 0.2), ebItems(P2_EB, P2_RED_B, null, 0.2)), 'rgba(255,90,90,0.8)', 'rgba(255,130,130,0.7)', 1));
series.push(ebSeries(2, cat(ebItems(P2_EA, P2_BLACK_A, null, 0.2), ebItems(P2_EB, P2_BLACK_B, null, 0.2)), C.black, C.black, 1));
series.push(ebSeries(2, wideItems([P2_BLACK_HI]), C.black, C.black, 1));
series.push(lineS(2, P2_STEP, 'rgba(120,120,255,0.6)', 4, 'solid', 3));
series.push(lineS(2, P2_STEP, C.black, 1.3));
series.push(lineS(2, P2_STEP_RED, C.red, 1.5));
series.push(lineS(2, P2_STEP, C.blue, 1.6, 'solid', 4));
series.push(lineS(2, P2_BLUE_UPA, C.blue, 1.8, 'solid', 4));
series.push(lineS(2, P2_BLUE_UPB, C.blue, 1.8, 'solid', 4));
series.push(lineS(2, P2_BLUE_HI, C.blue, 1.8, 'solid', 4));
series.push(lineS(2, P2_GREEN_DASH_A, C.green, 1.2, DASH));
series.push(lineS(2, P2_GREEN_DOT_A, C.green, 1.2, DOT));
series.push(lineS(2, P2_RED_DASH_A, C.dred, 1.3, DASH));
series.push(lineS(2, P2_RED_DOT, C.red, 1.2, DOT));
series.push(lineS(2, P2_GRAY_DOT, '#555', 1.2, DOT));
series.push(lineS(2, P2_RED_DASH_B, C.dred, 1.3, DASH));
series.push(lineS(2, P2_GREEN_DASH_B, C.green, 1.2, DASH));
series.push(lineS(2, P2_GREEN_DOT_B, C.green, 1.2, DOT));
series.push(lineS(2, P2_GREEN_DOT_C, C.green, 1.2, DOT));
series.push(lineS(2, P2_CYAN_DOT, C.cyan, 1.2, DOT));

// ---- Panel 2 ratio (grid 3)
const P2R_E = cat(P2_EA, P2_EB), P2R_EG = cat(P2_EA, P2_EGB);
series.push(ebSeries(3, ebItems(P2R_E, P2R_BLACK, P2R_BLACK_ERR), 'rgba(60,60,60,0.8)', C.gray, 1.6));
series.push(ebSeries(3, ebItems(P2R_E, P2R_RED, P2R_RED_ERR), 'rgba(220,0,0,0.8)', C.lred, 1.6));
series.push(ebSeries(3, ebItems(P2R_EG, P2R_GREEN, P2R_GREEN_ERR), 'rgba(0,200,0,0.8)', C.lgreen, 1.6));
series.push(ebSeries(3, wideItems(P2R_WIDE_BLACK), 'rgba(90,90,90,0.6)', C.gray, 1.6));
series.push(ebSeries(3, wideItems(P2R_WIDE_RED), 'rgba(255,60,60,0.6)', C.lred, 1.6));
series.push(ebSeries(3, wideItems(P2R_WIDE_GREEN), 'rgba(60,230,60,0.6)', C.lgreen, 1.6));

// ---- Panel 3 top (grid 4)
series.push(ebSeries(4, cat(ebItems(P3_EA, P3_GREEN_A, null, 0.2), ebItems(P3_EB, P3_GREEN_B, null, 0.2)), 'rgba(90,230,90,0.8)', 'rgba(120,240,120,0.7)', 1));
series.push(ebSeries(4, wideItems([P3_GREEN_WIDE]), 'rgba(90,230,90,0.9)', 'rgba(120,240,120,0.9)', 1));
series.push(ebSeries(4, cat(ebItems(P3_EA, P3_RED_A, null, 0.18), ebItems(P3_EB, P3_RED_B, null, 0.18)), 'rgba(255,90,90,0.8)', 'rgba(255,130,130,0.7)', 1));
series.push(ebSeries(4, cat(ebItems(P3_EA, P3_BLACK_A, null, 0.18), ebItems(P3_EB, P3_BLACK_B, null, 0.18)), C.black, C.black, 1));
[P3_GREEN_MODEL_A, P3_GREEN_MODEL_B].forEach(d => series.push(lineS(4, d, C.green, 1.4)));
[P3_GREEN_DASH_A, P3_GREEN_DASH_B].forEach(d => series.push(lineS(4, d, C.green, 1.2, DASH)));
[P3_GREEN_DOT_A, P3_GREEN_DOT_B].forEach(d => series.push(lineS(4, d, C.green, 1.2, DOT)));
[P3_BLUE_UP_A, P3_BLUE_UP_B].forEach(d => series.push(lineS(4, d, C.blue, 1.6, 'solid', 4)));
[P3_BLUE_LOW_A, P3_BLUE_LOW_B].forEach(d => series.push(lineS(4, d, C.blue, 2, 'solid', 4)));
[P3_RED_MODEL_A, P3_RED_MODEL_B].forEach(d => series.push(lineS(4, d, C.red, 1.6, 'solid', 4)));
[P3_RED_DASH_A, P3_RED_DASH_B].forEach(d => series.push(lineS(4, d, C.dred, 1.3, DASH)));
[P3_RED_DOT_A, P3_RED_DOT_B].forEach(d => series.push(lineS(4, d, '#aa3333', 1.2, DOT)));
[P3_CYAN_A, P3_CYAN_B].forEach(d => series.push(lineS(4, d, C.cyan, 1.3, DOT)));

// ---- Panel 3 ratio (grid 5)
const P3R_E = cat(P3_EA, P3_EB);
series.push(ebSeries(5, ebItems(P3R_E, P3R_BLACK, P3R_BLACK_ERR), 'rgba(60,60,60,0.8)', C.gray, 1.6));
series.push(ebSeries(5, ebItems(P3R_E, P3R_RED, P3R_RED_ERR), 'rgba(220,0,0,0.8)', C.lred, 1.6));
series.push(ebSeries(5, ebItems(P3R_E, P3R_GREEN, P3R_GREEN_ERR), 'rgba(0,200,0,0.8)', C.lgreen, 1.6));
series.push(ebSeries(5, wideItems(P3R_WIDE_GREEN), 'rgba(60,230,60,0.7)', C.lgreen, 1.6));

const chart = echarts.init(document.getElementById('c'), null, {renderer: 'canvas'});
chart.setOption({
  animation: false, backgroundColor: '#fff',
  grid: grids, xAxis: xAxes, yAxis: yAxes, series, graphic: graphics
});
</script></body></html>
